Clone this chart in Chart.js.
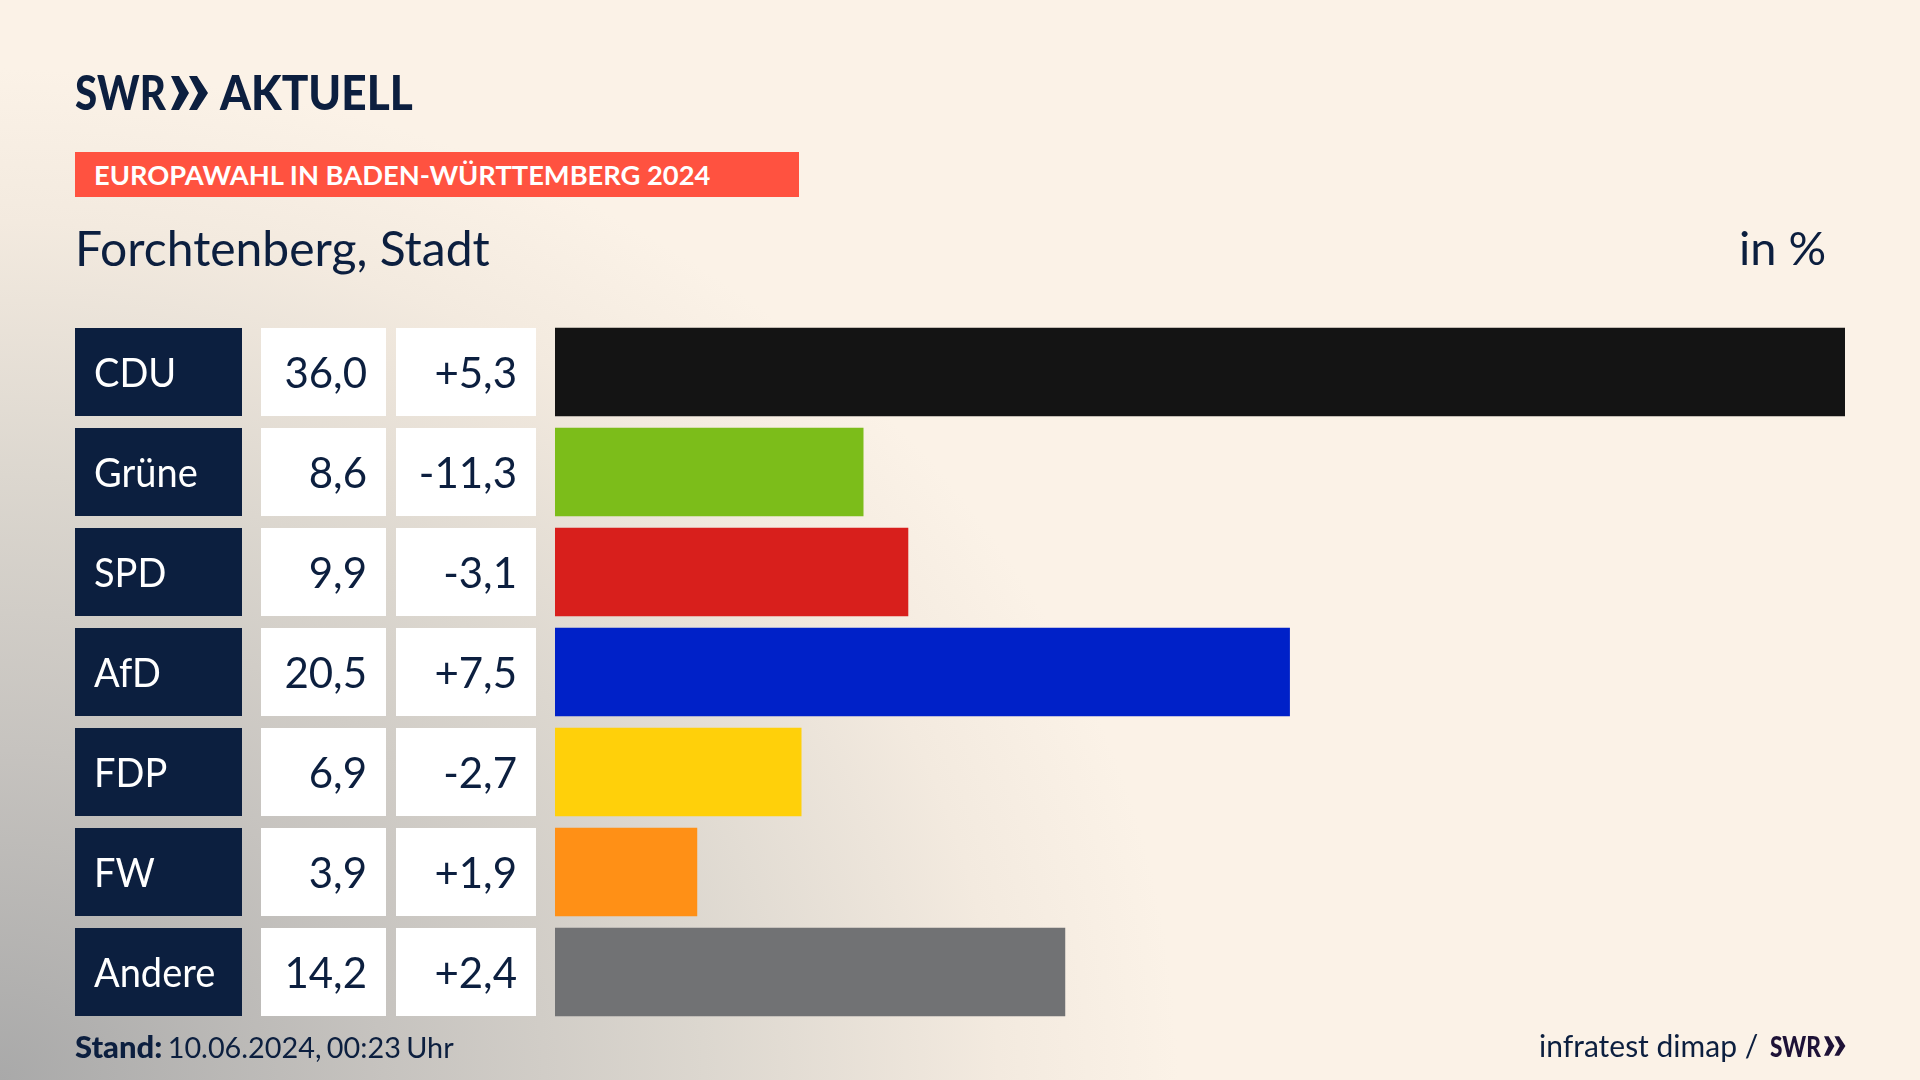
<!DOCTYPE html>
<html lang="de">
<head>
<meta charset="utf-8">
<title>Europawahl in Baden-Württemberg 2024</title>
<script src="https://cdn.jsdelivr.net/npm/chart.js@4"></script>
<style>
    html, body { margin: 0; padding: 0; }
    body {
        position: relative;
        width: 1920px;
        height: 1080px;
        overflow: hidden;
        font-family: Lato, sans-serif;
        color: #0c1f3f;
        background: radial-gradient(ellipse 1280px 1100px at 0 1080px, #a9a9a9 0%, #c6c3bf 30%, #dcd7cf 55%, #f3eadf 78%, #fbf2e7 92%) #fbf2e7;
    }
    #chart { position: absolute; left: 0; top: 0; }
    .txt { position: absolute; white-space: nowrap; transform-origin: left top; line-height: 1; }
    .logo { font-weight: 900; font-size: 48px; color: #0c1f3f; }
    #banner { position: absolute; left: 75px; top: 152px; width: 724px; height: 45px; background: #ff5240; }
    #bannerText { left: 94px; top: 161px; font-size: 27.3px; font-weight: 700; color: #fff; }
    #title { left: 75px; top: 224px; font-size: 48px; }
    #unit { left: 1739px; top: 224px; font-size: 47px; }
    #stand { left: 75px; top: 1031px; font-size: 28.8px; word-spacing: -2px; }
    #stand b { font-size: 31px; font-weight: 900; }
    #source { left: 1539px; top: 1030px; font-size: 30px; }
    #sourceLogo { left: 1770px; top: 1031px; font-size: 29px; font-weight: 900; color: #1e1237; transform: scaleX(0.78); }
</style>
</head>
<body>
<canvas id="chart" width="1920" height="1080"></canvas>

<span class="txt logo" style="left:75px;top:68px;transform:scaleX(0.84)">SWR</span>
<svg style="position:absolute;left:171px;top:74px" width="38" height="38" viewBox="0 0 38 38">
    <path d="M0 2h8l10 17-10 17H0l8-17z M18 2h8l11 17-11 17h-8l9-17z" fill="#0c1f3f"/>
</svg>
<span class="txt logo" style="left:220px;top:68px;transform:scaleX(0.92)">AKTUELL</span>

<div id="banner"></div>
<span class="txt" id="bannerText">EUROPAWAHL IN BADEN-WÜRTTEMBERG 2024</span>
<span class="txt" id="title">Forchtenberg, Stadt</span>
<span class="txt" id="unit">in %</span>

<span class="txt" id="stand"><b>Stand:</b> 10.06.2024, 00:23 Uhr</span>
<span class="txt" id="source">infratest dimap /</span>
<span class="txt" id="sourceLogo">SWR</span>
<svg style="position:absolute;left:1824px;top:1035px" width="22" height="22" viewBox="0 0 38 38">
    <path d="M0 2h8l10 17-10 17H0l8-17z M18 2h8l11 17-11 17h-8l9-17z" fill="#1e1237"/>
</svg>

<script>
const parties = ["CDU", "Grüne", "SPD", "AfD", "FDP", "FW", "Andere"];
// bar lengths as measured, a little finer than the printed one-decimal labels
const shares = [36.0, 8.6, 9.85, 20.5, 6.87, 3.96, 14.23];
const shareLabels = ["36,0", "8,6", "9,9", "20,5", "6,9", "3,9", "14,2"];
const changeLabels = ["+5,3", "-11,3", "-3,1", "+7,5", "-2,7", "+1,9", "+2,4"];
const barColors = ["#141414", "#7cbd1a", "#d81f1c", "#0021c8", "#ffd00a", "#ff9016", "#717274"];

// the three cells left of every bar, hung on the category scale
const rowCells = {
    id: "rowCells",
    afterDatasetsDraw(chart) {
        const ctx = chart.ctx;
        const yScale = chart.scales.y;

        ctx.save();
        ctx.textBaseline = "alphabetic";

        parties.forEach((party, i) => {
            const center = yScale.getPixelForValue(i);
            const top = center - 44;

            ctx.fillStyle = "#0c1f3f";
            ctx.fillRect(75, top, 167, 88);
            ctx.fillStyle = "#ffffff";
            ctx.fillRect(261, top, 125, 88);
            ctx.fillRect(396, top, 140, 88);

            // party names run narrower than the font
            ctx.save();
            ctx.translate(94, center + 15);
            ctx.scale(0.95, 1);
            ctx.font = "40px Lato, sans-serif";
            ctx.textAlign = "left";
            ctx.fillStyle = "#ffffff";
            ctx.fillText(party, 0, 0);
            ctx.restore();

            ctx.font = "42px Lato, sans-serif";
            ctx.textAlign = "right";
            ctx.fillStyle = "#0c1f3f";
            ctx.fillText(shareLabels[i], 367, center + 16);
            ctx.fillText(changeLabels[i], 517, center + 16);
        });
        ctx.restore();
    }
};

new Chart(document.getElementById("chart"), {
    type: "bar",
    data: {
        labels: parties,
        datasets: [
            {
                data: shares,
                backgroundColor: barColors,
                borderWidth: 0,
                barThickness: 88
            }
        ]
    },
    options: {
        indexAxis: "y",
        responsive: false,
        animation: false,
        devicePixelRatio: 1,
        layout: {
            padding: { left: 555, right: 75, top: 322, bottom: 58 }
        },
        plugins: {
            legend: { display: false },
            tooltip: { enabled: false }
        },
        scales: {
            x: { display: false, min: 0, max: 36 },
            y: { display: false }
        }
    },
    plugins: [rowCells]
});
</script>
</body>
</html>
